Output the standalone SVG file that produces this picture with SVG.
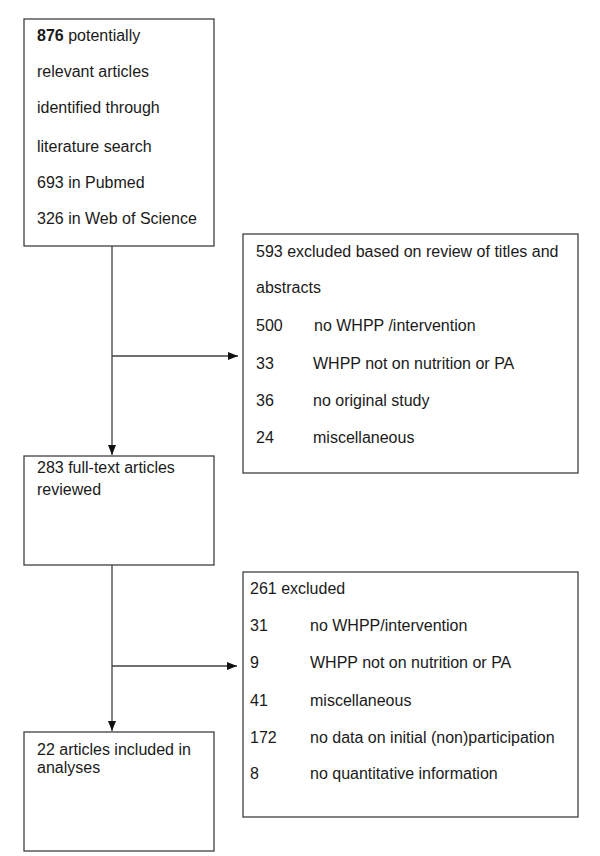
<svg xmlns="http://www.w3.org/2000/svg" width="600" height="856" viewBox="0 0 600 856">
<defs>
<style>
.box{fill:#fff;stroke:#404040;stroke-width:1.3}
.t{font-family:"Liberation Sans",Arial,sans-serif;font-size:16px;fill:#1a1a1a}
.c{fill:none;stroke:#404040;stroke-width:1.3}
</style>
<marker id="ah" viewBox="0 0 10 10" refX="10" refY="5" markerWidth="10" markerHeight="10" markerUnits="userSpaceOnUse" orient="auto">
<path d="M0,1 L10,5 L0,9 Z" fill="#111"/>
</marker>
</defs>
<rect width="600" height="856" fill="#fff"/>
<g id="connectors">
<line class="c" x1="112" y1="246" x2="112" y2="455" marker-end="url(#ah)"/>
<line class="c" x1="112" y1="356" x2="238" y2="356" marker-end="url(#ah)"/>
<line class="c" x1="112" y1="565" x2="112" y2="731" marker-end="url(#ah)"/>
<line class="c" x1="112" y1="666" x2="237" y2="666" marker-end="url(#ah)"/>
</g>
<g id="identified">
<rect class="box" x="24" y="19" width="190" height="227"/>
<text class="t" x="37" y="41"><tspan font-weight="bold">876</tspan> potentially</text>
<text class="t" x="37" y="77">relevant articles</text>
<text class="t" x="37" y="113">identified through</text>
<text class="t" x="37" y="152">literature search</text>
<text class="t" x="37" y="188">693 in Pubmed</text>
<text class="t" x="37" y="224">326 in Web of Science</text>
</g>
<g id="excluded1">
<rect class="box" x="243" y="234" width="335" height="239"/>
<text class="t" x="256" y="257">593 excluded based on review of titles and</text>
<text class="t" x="256" y="293">abstracts</text>
<text class="t" x="256" y="331">500</text><text class="t" x="314" y="331">no WHPP /intervention</text>
<text class="t" x="256" y="369">33</text><text class="t" x="313" y="369">WHPP not on nutrition or PA</text>
<text class="t" x="256" y="406">36</text><text class="t" x="313" y="406">no original study</text>
<text class="t" x="256" y="443">24</text><text class="t" x="313" y="443">miscellaneous</text>
</g>
<g id="fulltext">
<rect class="box" x="24" y="456" width="190" height="109"/>
<text class="t" x="37" y="473">283 full-text articles</text>
<text class="t" x="37" y="495">reviewed</text>
</g>
<g id="excluded2">
<rect class="box" x="243" y="572" width="335" height="245"/>
<text class="t" x="250" y="594">261 excluded</text>
<text class="t" x="250" y="631">31</text><text class="t" x="310" y="631">no WHPP/intervention</text>
<text class="t" x="250" y="668">9</text><text class="t" x="310" y="668">WHPP not on nutrition or PA</text>
<text class="t" x="250" y="706">41</text><text class="t" x="310" y="706">miscellaneous</text>
<text class="t" x="250" y="743">172</text><text class="t" x="310" y="743">no data on initial (non)participation</text>
<text class="t" x="250" y="779">8</text><text class="t" x="310" y="779">no quantitative information</text>
</g>
<g id="included">
<rect class="box" x="24" y="732" width="190" height="119"/>
<text class="t" x="37" y="755">22 articles included in</text>
<text class="t" x="37" y="773">analyses</text>
</g>
</svg>
